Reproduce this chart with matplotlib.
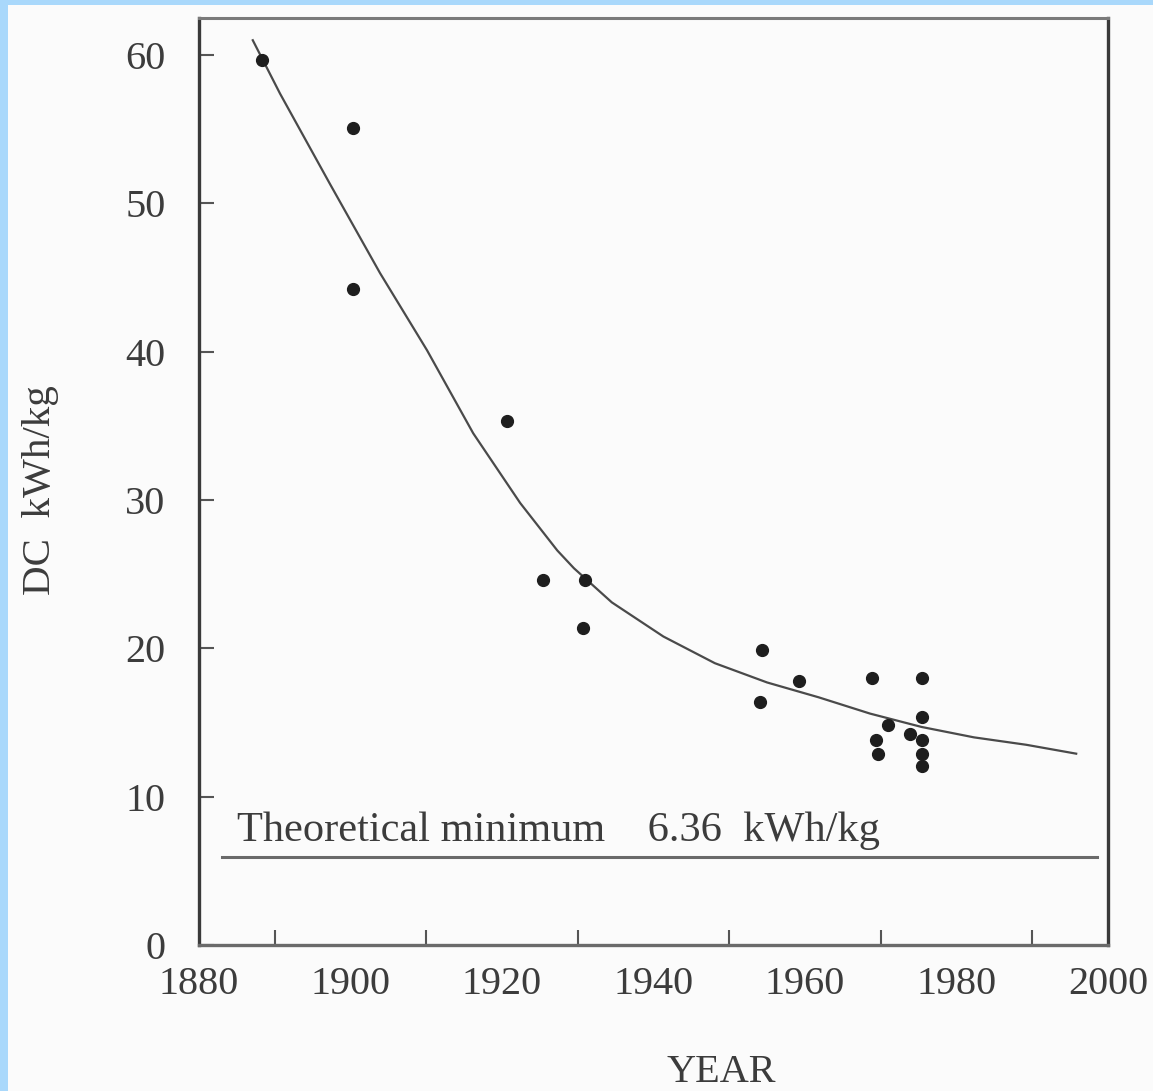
import matplotlib
matplotlib.use("Agg")
import matplotlib.pyplot as plt
from matplotlib.patches import Rectangle

# measured points (year, DC kWh/kg)
years = [1888.3, 1900.3, 1900.3, 1920.6, 1925.4, 1930.9, 1930.7, 1954.3, 1954.0,
         1959.2, 1968.9, 1975.5, 1970.9, 1969.4, 1969.6, 1973.8, 1975.5, 1975.4,
         1975.4, 1975.4]
dc = [59.7, 55.1, 44.2, 35.3, 24.6, 24.6, 21.4, 19.9, 16.4,
      17.8, 18.0, 18.0, 14.8, 13.8, 12.9, 14.2, 15.4, 13.8,
      12.9, 12.1]

# fitted trend curve
curve_x = [1887.1, 1890.7, 1897.3, 1903.9, 1910.1, 1916.2, 1922.4, 1927.3,
           1929.5, 1934.5, 1941.3, 1948.1, 1955.0, 1961.8, 1968.6, 1975.4,
           1982.3, 1989.2, 1995.8]
curve_y = [61.0, 57.4, 51.3, 45.3, 40.1, 34.5, 29.8, 26.6,
           25.4, 23.1, 20.8, 19.0, 17.7, 16.7, 15.6, 14.7,
           14.0, 13.5, 12.9]

theo_x = [1883.0, 1998.5]
theo_y = [5.9, 5.9]

xticks = [1880, 1900, 1920, 1940, 1960, 1980, 2000]
xminor = list(range(1890, 2000, 10))
yticks = [0, 10, 20, 30, 40, 50, 60]

plt.rcParams['font.family'] = ['Liberation Serif', 'DejaVu Serif']
txt = '#3c3c3c'

fig = plt.figure(figsize=(11.53, 10.91), dpi=100)
fig.set_facecolor('#a9d8fb')
fig.patches.append(Rectangle((8/1153, 0), 1, 1 - 5/1091, transform=fig.transFigure,
                             facecolor='#fbfbfb', edgecolor='none', zorder=-10))

ax = fig.add_axes([199/1153, 146/1091, 909/1153, 927/1091])
ax.set_facecolor('#fbfbfb')

ax.plot(curve_x, curve_y, color='#4a4a4a', lw=1.6, zorder=2)
ax.plot(years, dc, 'o', color='#1e1e1e', ms=8.5, zorder=3)
ax.plot(theo_x, theo_y, color='#6a6a6a', lw=2.2, zorder=2)
ax.text(1885.0, 7.0, 'Theoretical minimum    6.36  kWh/kg', fontsize=30.5,
        color=txt, va='baseline', ha='left')

ax.set_xlim(1880, 2000)
ax.set_ylim(0, 62.5)
ax.set_xticks(xticks)
ax.set_xticks(xminor, minor=True)
ax.set_yticks(yticks)
ax.tick_params(axis='both', which='both', direction='in', length=11, width=1.5,
               color='#555555', labelsize=29, labelcolor=txt)
ax.tick_params(axis='x', which='major', length=0, pad=15)
ax.tick_params(axis='y', pad=24)

for side in ['left', 'bottom', 'right']:
    ax.spines[side].set_linewidth(2.4)
    ax.spines[side].set_color('#3a3a3a')
ax.spines['top'].set_linewidth(2.2)
ax.spines['top'].set_color('#7a7a7a')
ax.spines['bottom'].set_color('#6a6a6a')

fig.text(41/1153, 1 - 490/1091, 'DC  kWh/kg', rotation=90, fontsize=29.5,
         color=txt, ha='center', va='center')
fig.text(721/1153, 1 - 1073/1091, 'YEAR', fontsize=29, color=txt,
         ha='center', va='center')

fig.savefig('out.png', dpi=100, facecolor=fig.get_facecolor())
